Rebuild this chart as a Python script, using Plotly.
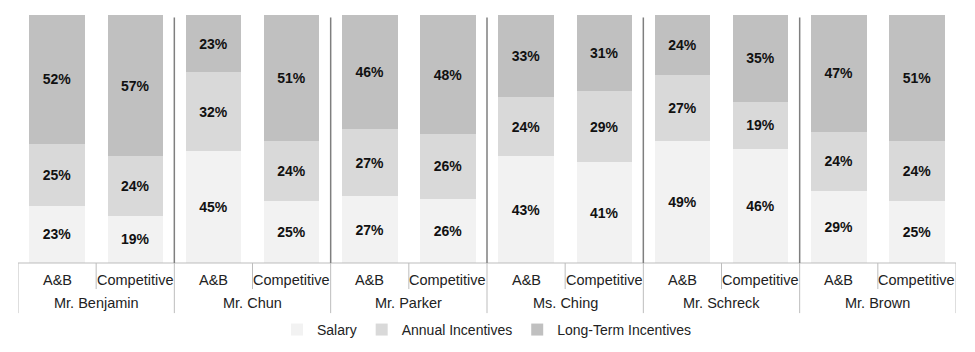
import plotly.graph_objects as go

groups = ["Mr. Benjamin", "Mr. Chun", "Mr. Parker", "Ms. Ching", "Mr. Schreck", "Mr. Brown"]
scenarios = ["A&B", "Competitive"]
salary = [23, 19, 45, 25, 27, 26, 43, 41, 49, 46, 29, 25]
annual = [25, 24, 32, 24, 27, 26, 24, 29, 27, 19, 24, 24]
longterm = [52, 57, 23, 51, 46, 48, 33, 31, 24, 35, 47, 51]

series_names = ["Salary", "Annual Incentives", "Long-Term Incentives"]
series_vals = [salary, annual, longterm]
colors = ["#f2f2f2", "#d9d9d9", "#c0c0c0"]

cats = [f"{g}|{s}" for g in groups for s in scenarios]
font_fam = "Liberation Sans, Arial"

fig = go.Figure()
for name, vals, col in zip(series_names, series_vals, colors):
    fig.add_trace(go.Bar(
        x=cats, y=vals, name=name,
        marker=dict(color=col, line=dict(width=0)),
        text=vals, texttemplate="%{text}%",
        textposition="inside", insidetextanchor="middle", textangle=0,
        constraintext="none",
        textfont=dict(family=font_fam, size=14, color="#111111", weight="bold"),
        hoverinfo="skip",
    ))

shapes = []
annotations = []
n = len(cats)
# axis baseline
shapes.append(dict(type="line", xref="paper", yref="paper", x0=0, x1=1, y0=0, y1=0,
                   line=dict(color="#bdbdbd", width=1)))
row1 = -0.105   # bottom of inner label row
row2 = -0.202   # bottom of outer label row
for i in range(len(groups) + 1):
    xb = 2 * i - 0.5
    shapes.append(dict(type="line", xref="x", yref="paper", x0=xb, x1=xb, y0=0, y1=row2,
                       line=dict(color="#bdbdbd", width=1)))
    if 0 < i < len(groups):
        shapes.append(dict(type="line", xref="x", yref="paper", x0=xb, x1=xb, y0=0, y1=0.99,
                           line=dict(color="#7f7f7f", width=1.5)))
for i in range(len(groups)):
    xb = 2 * i + 0.5
    shapes.append(dict(type="line", xref="x", yref="paper", x0=xb, x1=xb, y0=0, y1=row1,
                       line=dict(color="#bdbdbd", width=1)))

for c, s in zip(cats, [s for g in groups for s in scenarios]):
    annotations.append(dict(x=c, y=-0.07, xref="x", yref="paper", text=s, showarrow=False,
                            font=dict(family=font_fam, size=14.5, color="#222222"),
                            yanchor="middle"))
for i, g in enumerate(groups):
    annotations.append(dict(x=2 * i + 0.5, y=-0.163, xref="x", yref="paper", text=g, showarrow=False,
                            font=dict(family=font_fam, size=14.5, color="#222222"),
                            yanchor="middle"))

fig.update_layout(
    width=975, height=352,
    margin=dict(l=18, r=19, t=15, b=89, autoexpand=False),
    barmode="stack", barnorm="percent", bargap=0.29,
    plot_bgcolor="white", paper_bgcolor="white",
    xaxis=dict(showticklabels=False, showgrid=False, zeroline=False, showline=False,
               ticks="", range=[-0.5, n - 0.5]),
    yaxis=dict(visible=False, range=[0, 100], showgrid=False),
    shapes=shapes, annotations=annotations,
    showlegend=True,
    legend=dict(orientation="h", x=0.5, xanchor="center", y=-0.27, yanchor="middle",
                traceorder="normal",
                font=dict(family=font_fam, size=14, color="#222222"),
                itemwidth=30, tracegroupgap=0),
)

fig.write_html("out.html")
